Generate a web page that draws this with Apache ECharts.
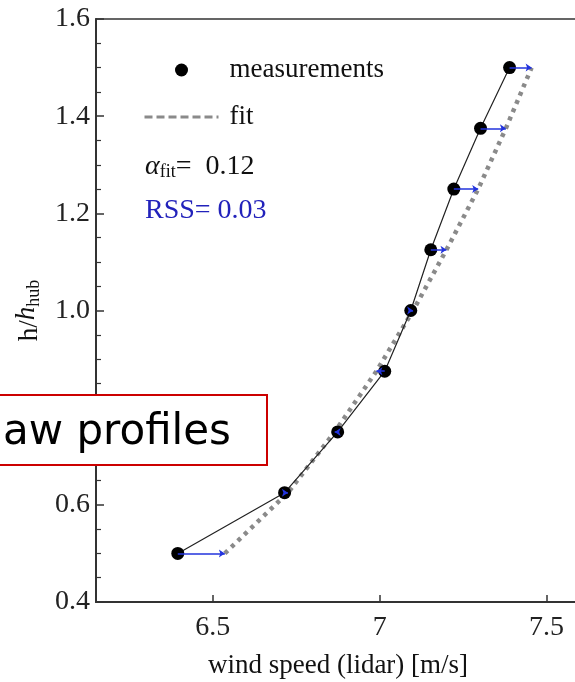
<!DOCTYPE html>
<html>
<head>
<meta charset="utf-8">
<script src="https://cdn.jsdelivr.net/npm/echarts@6/dist/echarts.min.js"></script>
<style>html,body{margin:0;padding:0;background:#fff}#c{width:575px;height:682px}</style>
</head>
<body>
<div id="c"></div>
<script>
// Heights h/h_hub
var heights = [0.5, 0.625, 0.75, 0.875, 1.0, 1.125, 1.25, 1.375, 1.5];
// Measured wind speed (lidar) [m/s]
var measured = [6.395, 6.715, 6.874, 7.015, 7.093, 7.153, 7.222, 7.302, 7.389];
// Power-law fit values at the same heights
var fitted = [6.536, 6.725, 6.865, 6.99, 7.10, 7.20, 7.295, 7.378, 7.455];
var xTicks = [6.5, 7, 7.5];
var alphaFit = '0.12';
var rss = '0.03';

var serif = '"Liberation Serif", "Times New Roman", serif';
var chart = echarts.init(document.getElementById('c'), null, {renderer: 'canvas'});

var measData = heights.map(function (h, i) { return [measured[i], h]; });
var fitData = heights.map(function (h, i) { return [fitted[i], h]; });
var arrowData = heights.map(function (h, i) { return {coords: [[measured[i], h], [fitted[i], h]]}; });

chart.setOption({
  animation: false,
  backgroundColor: '#fff',
  grid: {left: 96, top: 19, width: 484, bottom: 80, outerBoundsMode: 'none', containLabel: false,
    show: true, borderColor: '#333', borderWidth: 1.5, backgroundColor: 'transparent'},
  legend: {
    left: 138, top: 50, orient: 'vertical', itemWidth: 74, itemHeight: 13, itemGap: 17,
    textStyle: {fontFamily: serif, fontSize: 27, color: '#111', lineHeight: 30, padding: [0, 0, 0, 6]},
    data: [
      {name: 'measurements', icon: 'circle', itemStyle: {color: '#000'}},
      {name: 'fit', itemStyle: {color: 'transparent', opacity: 0, borderWidth: 0}, lineStyle: {width: 3, type: [8, 4], color: '#8a8a8a'}}
    ]
  },
  xAxis: {
    type: 'value', min: 6.15, max: 7.6,
    name: 'wind speed (lidar) [m/s]', nameLocation: 'middle', nameGap: 50,
    nameTextStyle: {fontFamily: serif, fontSize: 27, color: '#111'},
    axisLine: {lineStyle: {color: '#333', width: 2}},
    axisTick: {inside: true, length: 7, lineStyle: {color: '#333', width: 1.5}, customValues: xTicks},
    axisLabel: {customValues: xTicks, fontFamily: serif, fontSize: 28, color: '#222', margin: 12,
      formatter: function (v) { return String(v); }},
    splitLine: {show: false}
  },
  yAxis: {
    type: 'value', min: 0.4, max: 1.6, interval: 0.2,
    name: '{a|h/}{b|h}{c|hub}', nameLocation: 'middle', nameRotate: 90, nameGap: 50,
    nameTextStyle: {
      rich: {
        a: {fontFamily: serif, fontSize: 27, color: '#111'},
        b: {fontFamily: serif, fontSize: 27, fontStyle: 'italic', color: '#111', padding: [0, 0, 6, 0]},
        c: {fontFamily: serif, fontSize: 18, color: '#111', padding: [10, 0, 0, 0]}
      }
    },
    axisLine: {lineStyle: {color: '#333', width: 2}},
    axisTick: {inside: true, length: 8, lineStyle: {color: '#333', width: 1.5}},
    minorTick: {show: true, splitNumber: 4, length: 5, lineStyle: {color: '#333', width: 1.2}},
    axisLabel: {fontFamily: serif, fontSize: 28, color: '#222', margin: 6,
      formatter: function (v) { return v.toFixed(1); }},
    splitLine: {show: false}
  },
  series: [
    {
      name: 'fit', type: 'line', data: fitData, symbol: 'none', z: 2,
      itemStyle: {color: '#8a8a8a'},
      lineStyle: {color: '#8a8a8a', width: 4.5, type: [4, 5]}
    },
    {
      name: 'measurements', type: 'line', data: measData, z: 3,
      symbol: 'circle', symbolSize: 13,
      itemStyle: {color: '#000'}, lineStyle: {color: '#222', width: 1.2}
    },
    {
      name: 'residual', type: 'lines', coordinateSystem: 'cartesian2d', data: arrowData, z: 4,
      symbol: ['none', 'arrow'], symbolSize: 6,
      lineStyle: {color: '#2233dd', width: 1.5, opacity: 1}
    }
  ],
  graphic: [
    {
      type: 'text', left: 145, top: 153, z: 10,
      style: {
        text: '{al|α}{sub|fit}{t|=  ' + alphaFit + '}',
        rich: {
          al: {fontFamily: serif, fontSize: 28, fontStyle: 'italic', fill: '#111'},
          sub: {fontFamily: serif, fontSize: 18, fill: '#111', padding: [10, 0, 0, 0]},
          t: {fontFamily: serif, fontSize: 28, fill: '#111'}
        }
      }
    },
    {
      type: 'text', left: 145, top: 197, z: 10,
      style: {text: 'RSS= ' + rss, fontFamily: serif, fontSize: 28, fill: '#2222bb'}
    },
    {
      type: 'rect', z: 20,
      shape: {x: -10, y: 395, width: 277, height: 70},
      style: {fill: '#fff', stroke: '#cc0000', lineWidth: 2}
    },
    {
      type: 'text', z: 21, x: 3, y: 433,
      style: {text: 'aw profiles', fontFamily: '"DejaVu Sans", Verdana, sans-serif', fontSize: 42, fill: '#000', verticalAlign: 'middle'}
    }
  ]
});
</script>
</body>
</html>
